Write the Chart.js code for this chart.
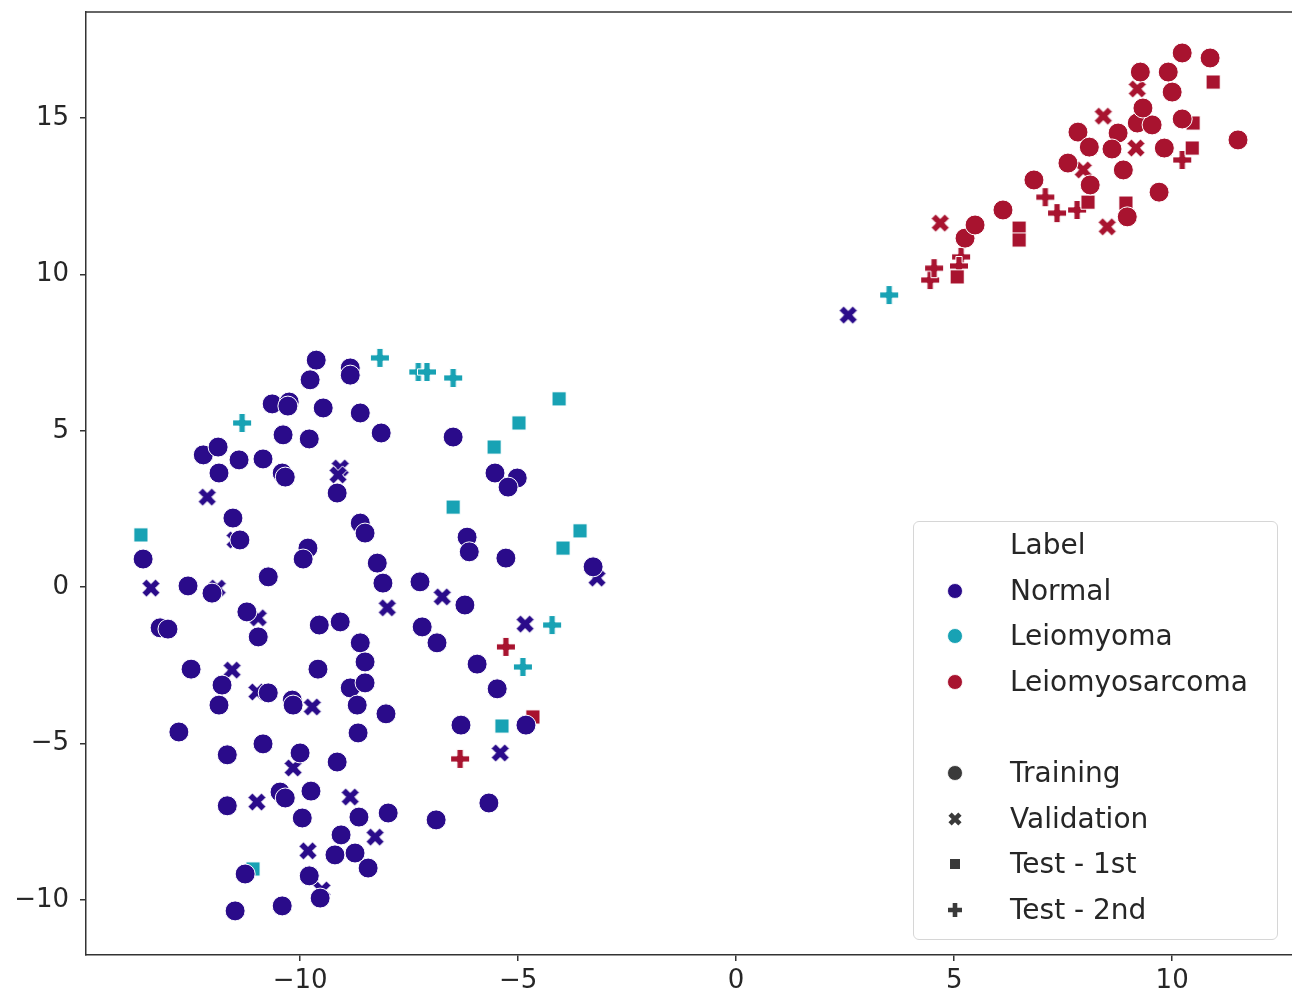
<!DOCTYPE html>
<html>
<head>
<meta charset="utf-8">
<script src="https://cdn.jsdelivr.net/npm/chart.js@4.4.0/dist/chart.umd.min.js"></script>
<style>
  html, body { margin: 0; padding: 0; background: #ffffff; overflow: hidden; width: 1292px; height: 994px; }
  #wrap { position: absolute; left: 0; top: 0; width: 1296px; height: 994px; }
  #legend { position: absolute; left: 913px; top: 521px; width: 363px; height: 417px;
    border: 1.5px solid #d6d6d6; border-radius: 6px; background: rgba(255,255,255,0.85);
    font-family: "DejaVu Sans", sans-serif; font-size: 28px; color: #262626; }
  .row { position: absolute; left: 0; height: 40px; width: 100%; }
  .row span { position: absolute; left: 96px; top: 50%; transform: translateY(-52%); white-space: nowrap; }
  .row svg { position: absolute; left: 31px; top: 10px; }
</style>
</head>
<body>
<div id="wrap"><canvas id="c" width="1296" height="994"></canvas></div>
<div id="legend"></div>
<script>
// ---- data (t-SNE coordinates) ----
const labels = ["Normal", "Leiomyoma", "Leiomyosarcoma"];
const splits = ["Training", "Validation", "Test - 1st", "Test - 2nd"];
const xTicks = [-10, -5, 0, 5, 10];
const yTicks = [-10, -5, 0, 5, 10, 15];

const normalTraining = [
  [-9.63,7.26],[-8.85,7.01],[-8.85,6.78],[-9.77,6.63],[-10.64,5.86],[-10.25,5.92],[-10.28,5.79],
  [-9.47,5.73],[-8.62,5.57],[-10.39,4.87],[-9.79,4.74],[-8.14,4.93],[-6.49,4.80],[-12.22,4.23],
  [-11.88,4.48],[-11.40,4.07],[-10.85,4.10],[-10.41,3.65],[-10.34,3.52],[-11.86,3.65],[-9.15,3.01],
  [-5.53,3.65],[-5.02,3.49],[-5.23,3.20],[-11.54,2.21],[-8.62,2.05],[-8.51,1.73],[-11.38,1.51],
  [-6.17,1.60],[-6.12,1.13],[-5.28,0.93],[-13.60,0.90],[-9.82,1.25],[-9.93,0.90],[-3.28,0.65],
  [-10.73,0.33],[-8.23,0.77],[-8.10,0.13],[-7.25,0.17],[-12.57,0.04],[-12.02,-0.19],[-6.22,-0.57],
  [-13.21,-1.30],[-13.03,-1.34],[-11.22,-0.79],[-10.96,-1.59],[-9.56,-1.21],[-9.08,-1.11],
  [-7.20,-1.27],[-6.86,-1.78],[-8.62,-1.78],[-8.51,-2.39],[-5.94,-2.46],[-12.50,-2.62],
  [-11.79,-3.13],[-9.59,-2.62],[-5.48,-3.25],[-10.73,-3.38],[-10.18,-3.61],[-10.16,-3.77],
  [-8.85,-3.22],[-8.51,-3.06],[-11.86,-3.77],[-8.69,-3.77],[-8.03,-4.05],[-12.78,-4.63],
  [-8.67,-4.66],[-6.31,-4.41],[-4.82,-4.41],[-10.85,-5.01],[-11.67,-5.36],[-10.00,-5.30],
  [-9.15,-5.59],[-11.67,-6.99],[-10.46,-6.55],[-10.34,-6.74],[-9.75,-6.52],[-9.95,-7.38],
  [-8.65,-7.35],[-7.98,-7.22],[-9.06,-7.92],[-6.88,-7.44],[-5.67,-6.90],[-9.20,-8.56],
  [-8.74,-8.50],[-8.44,-8.98],[-11.26,-9.17],[-9.79,-9.23],[-9.54,-9.94],[-11.49,-10.35],
  [-10.41,-10.19]
];
const normalValidation = [
  [-9.08,3.81],[-9.13,3.59],[-12.13,2.88],[-11.49,1.51],[-3.19,0.29],[-13.42,-0.03],[-11.90,-0.03],
  [-6.74,-0.31],[-8.00,-0.66],[-10.96,-0.98],[-4.84,-1.18],[-11.56,-2.65],[-10.99,-3.35],
  [-9.72,-3.83],[-10.16,-5.78],[-5.41,-5.30],[-10.99,-6.87],[-8.85,-6.71],[-8.28,-7.99],
  [-9.82,-8.43],[-9.50,-9.68],[2.57,8.70]
];
const leiomyomaTest1 = [
  [-4.06,6.02],[-4.98,5.25],[-5.55,4.48],[-6.49,2.56],[-13.65,1.67],[-3.58,1.80],[-3.97,1.25],
  [-5.37,-4.44],[-11.08,-9.01]
];
const leiomyomaTest2 = [
  [-8.17,7.33],[-7.29,6.88],[-7.09,6.88],[-6.49,6.69],[-11.33,5.25],[-4.22,-1.21],[-4.89,-2.55],
  [3.51,9.34]
];
const sarcomaTraining = [
  [5.25,11.16],[5.48,11.58],[6.12,12.06],[6.83,13.02],[7.61,13.56],[7.84,14.55],[8.10,14.07],
  [8.12,12.86],[8.76,14.52],[8.62,14.01],[8.88,13.34],[8.97,11.84],[9.20,14.84],[9.54,14.78],
  [9.33,15.32],[9.27,16.47],[9.91,16.47],[10.23,17.08],[10.87,16.92],[10.00,15.83],[10.23,14.97],
  [9.82,14.04],[9.70,12.63],[11.51,14.30]
];
const sarcomaValidation = [
  [4.68,11.64],[8.42,15.06],[9.20,15.93],[9.17,14.04],[7.96,13.34],[8.51,11.52]
];
const sarcomaTest1 = [
  [-4.66,-4.15],[5.07,9.92],[6.49,11.48],[6.49,11.10],[8.07,12.31],[8.94,12.28],[10.94,16.15],
  [10.48,14.84],[10.46,14.04]
];
const sarcomaTest2 = [
  [-5.28,-1.91],[-6.33,-5.49],[4.45,9.82],[4.54,10.20],[5.16,10.56],[5.11,10.27],[7.09,12.47],
  [7.36,11.96],[7.82,12.06],[10.23,13.66]
];

// ---- styling ----
const colors = { Normal: "#2a0b8a", Leiomyoma: "#18a2b4", Leiomyosarcoma: "#a8132f" };
const FONT = '"DejaVu Sans", sans-serif';

function polyPlus(ctx, c, L, t, rot) {
  const pts = [[-t,-L],[t,-L],[t,-t],[L,-t],[L,t],[t,t],[t,L],[-t,L],[-t,t],[-L,t],[-L,-t],[-t,-t]];
  const cs = Math.cos(rot), sn = Math.sin(rot);
  ctx.beginPath();
  pts.forEach((p, i) => {
    const x = c + p[0]*cs - p[1]*sn, y = c + p[0]*sn + p[1]*cs;
    if (i === 0) ctx.moveTo(x, y); else ctx.lineTo(x, y);
  });
  ctx.closePath();
}
function markerCanvas(kind, color) {
  const s = 28, cv = document.createElement('canvas');
  cv.width = s; cv.height = s;
  const ctx = cv.getContext('2d');
  if (kind === 'plus') polyPlus(ctx, s/2, 9.5, 3.1, 0);
  else polyPlus(ctx, s/2, 9.6, 3.2, Math.PI/4);
  ctx.fillStyle = color; ctx.fill();
  ctx.lineWidth = 1; ctx.strokeStyle = '#ffffff'; ctx.stroke();
  return cv;
}

function ds(data, cls, split) {
  const color = colors[cls];
  const base = { label: cls + ' ' + split, data: data.map(p => ({ x: p[0], y: p[1] })),
    backgroundColor: color, borderColor: '#ffffff', borderWidth: 1 };
  if (split === 'Training') return Object.assign(base, { pointStyle: 'circle', pointRadius: 10 });
  if (split === 'Test - 1st') return Object.assign(base, { pointStyle: 'rect', pointRadius: 10 });
  if (split === 'Validation') return Object.assign(base, { pointStyle: markerCanvas('x', color), pointRadius: 10 });
  return Object.assign(base, { pointStyle: markerCanvas('plus', color), pointRadius: 10 });
}

const datasets = [
  ds(normalTraining, 'Normal', 'Training'),
  ds(sarcomaTraining, 'Leiomyosarcoma', 'Training'),
  ds(normalValidation, 'Normal', 'Validation'),
  ds(sarcomaValidation, 'Leiomyosarcoma', 'Validation'),
  ds(leiomyomaTest1, 'Leiomyoma', 'Test - 1st'),
  ds(sarcomaTest1, 'Leiomyosarcoma', 'Test - 1st'),
  ds(leiomyomaTest2, 'Leiomyoma', 'Test - 2nd'),
  ds(sarcomaTest2, 'Leiomyosarcoma', 'Test - 2nd')
];

const topSpine = {
  id: 'topSpine',
  afterDraw(chart) {
    const a = chart.chartArea, ctx = chart.ctx;
    ctx.save(); ctx.strokeStyle = '#333333'; ctx.lineWidth = 1.5;
    ctx.beginPath(); ctx.moveTo(a.left, a.top); ctx.lineTo(a.right + 4, a.top); ctx.stroke(); ctx.restore();
  }
};

const fmt = v => String(v).replace('-', '\u2212');

new Chart(document.getElementById('c'), {
  type: 'scatter',
  data: { datasets },
  options: {
    responsive: false, animation: false, events: [],
    layout: { autoPadding: false, padding: { top: 12, left: 0, right: 0, bottom: 0 } },
    plugins: { legend: { display: false }, tooltip: { enabled: false } },
    scales: {
      x: {
        type: 'linear', min: -14.91, max: 12.84,
        afterBuildTicks: s => { s.ticks = xTicks.map(v => ({ value: v })); },
        afterFit: s => { s.height = 39; s.paddingLeft = 0; s.paddingRight = 0; },
        ticks: { callback: fmt, color: '#262626', font: { family: FONT, size: 26 }, padding: 5, maxRotation: 0 },
        grid: { drawOnChartArea: false, drawTicks: true, tickLength: 6, color: '#333333', lineWidth: 1.5 },
        border: { color: '#333333', width: 1.5 }
      },
      y: {
        type: 'linear', min: -11.76, max: 18.39,
        afterBuildTicks: s => { s.ticks = yTicks.map(v => ({ value: v })); },
        afterFit: s => { s.width = 86; s.paddingTop = 0; s.paddingBottom = 0; },
        ticks: { callback: fmt, color: '#262626', font: { family: FONT, size: 26 }, padding: 11 },
        grid: { drawOnChartArea: false, drawTicks: true, tickLength: 6, color: '#333333', lineWidth: 1.5 },
        border: { color: '#333333', width: 1.5 }
      }
    }
  },
  plugins: [topSpine]
});

// ---- legend (HTML, real text) ----
const legendEl = document.getElementById('legend');
const rowTops = [3, 49, 94, 140, 186, 231, 277, 322, 368];
function svgFor(kind, color) {
  let inner = '';
  if (kind === 'circle') inner = `<circle cx="10" cy="10" r="7.5" fill="${color}" stroke="#fff" stroke-width="0.8"/>`;
  else if (kind === 'square') inner = `<rect x="5" y="5" width="10" height="10" fill="${color}"/>`;
  else if (kind === 'plus') inner = `<path d="M7.7 3h4.6v4.7H17v4.6h-4.7V17H7.7v-4.7H3V7.7h4.7z" fill="${color}"/>`;
  else inner = `<path d="M7.7 3h4.6v4.7H17v4.6h-4.7V17H7.7v-4.7H3V7.7h4.7z" fill="${color}" transform="rotate(45 10 10)"/>`;
  return `<svg width="20" height="20" viewBox="0 0 20 20">${inner}</svg>`;
}
const rows = [
  { text: 'Label', m: null },
  { text: labels[0], m: svgFor('circle', colors.Normal) },
  { text: labels[1], m: svgFor('circle', colors.Leiomyoma) },
  { text: labels[2], m: svgFor('circle', colors.Leiomyosarcoma) },
  { text: '', m: null },
  { text: splits[0], m: svgFor('circle', '#3a3a3a') },
  { text: splits[1], m: svgFor('x', '#3a3a3a') },
  { text: splits[2], m: svgFor('square', '#3a3a3a') },
  { text: splits[3], m: svgFor('plus', '#3a3a3a') }
];
rows.forEach((r, i) => {
  const d = document.createElement('div');
  d.className = 'row'; d.style.top = rowTops[i] + 'px';
  d.innerHTML = (r.m || '') + (r.text ? `<span>${r.text}</span>` : '');
  legendEl.appendChild(d);
});
</script>
</body>
</html>
